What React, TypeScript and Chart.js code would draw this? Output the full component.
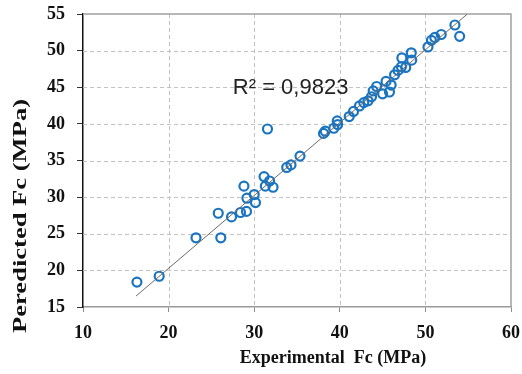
import React, { useEffect, useRef } from "react";
import { Chart, registerables } from "chart.js";

Chart.register(...registerables);

// Experimental vs predicted compressive strength (MPa)
const experimentalFc = [
  16.3, 18.9, 23.2, 26.1, 25.8, 27.35, 28.4, 29.1, 28.8, 29.15,
  30.15, 30.0, 31.15, 31.3, 32.2, 31.8, 31.55, 33.8, 34.3, 35.35,
  38.1, 38.3, 39.3, 39.7, 39.75, 41.1, 41.6, 42.3, 42.8, 43.3,
  43.7, 43.9, 44.3, 45.0, 45.8, 45.4, 46.0, 46.4, 46.8, 47.2,
  47.7, 47.25, 48.4, 48.35, 50.3, 50.7, 51.1, 51.85, 53.45, 54.0,
];
const predictedFc = [
  18.4, 19.2, 24.45, 24.45, 27.8, 27.3, 27.9, 28.05, 31.5, 29.85,
  29.25, 30.35, 32.8, 31.5, 31.35, 32.2, 39.3, 34.05, 34.4, 35.6,
  38.7, 39.0, 39.4, 40.4, 39.9, 41.0, 41.7, 42.45, 42.9, 43.15,
  43.7, 44.5, 45.1, 44.1, 44.35, 45.8, 45.3, 46.7, 47.3, 47.8,
  47.7, 49.0, 48.7, 49.7, 50.5, 51.4, 51.8, 52.2, 53.5, 51.95,
];
// Linear trendline end points
const trendX = [16.2, 54.9];
const trendY = [16.5, 55.0];

const xTicks = [10, 20, 30, 40, 50, 60];
const yTicks = [15, 20, 25, 30, 35, 40, 45, 50, 55];

const r2Label = "R² = 0,9823";
const xTitle = "Experimental  Fc (MPa)";
const yTitle = "Peredicted Fc (MPa)";

export default function App() {
  const ref = useRef<HTMLCanvasElement | null>(null);

  useEffect(() => {
    if (!ref.current) return;

    const decor = {
      id: "decor",
      beforeDatasetsDraw(chart: any) {
        const { ctx, chartArea, scales } = chart;
        ctx.save();
        ctx.strokeStyle = "#c2c2c2";
        ctx.lineWidth = 1;
        ctx.setLineDash([4, 3]);
        for (const v of xTicks.slice(1, -1)) {
          const px = Math.round(scales.x.getPixelForValue(v)) + 0.5;
          ctx.beginPath();
          ctx.moveTo(px, chartArea.top);
          ctx.lineTo(px, chartArea.bottom);
          ctx.stroke();
        }
        for (const v of yTicks.slice(1, -1)) {
          const py = Math.round(scales.y.getPixelForValue(v)) + 0.5;
          ctx.beginPath();
          ctx.moveTo(chartArea.left, py);
          ctx.lineTo(chartArea.right, py);
          ctx.stroke();
        }
        ctx.setLineDash([]);
        ctx.strokeStyle = "#a0a0a0";
        ctx.lineWidth = 1.5;
        ctx.beginPath();
        ctx.moveTo(chartArea.left, chartArea.top);
        ctx.lineTo(chartArea.right, chartArea.top);
        ctx.lineTo(chartArea.right, chartArea.bottom);
        ctx.stroke();
        ctx.restore();
      },
      afterDraw(chart: any) {
        const { ctx, scales } = chart;
        ctx.save();
        ctx.fillStyle = "#222";
        ctx.font = '22px "Liberation Sans"';
        ctx.textAlign = "left";
        ctx.textBaseline = "alphabetic";
        ctx.fillText(r2Label, scales.x.getPixelForValue(27.5), scales.y.getPixelForValue(44.05));

        ctx.fillStyle = "#111";
        ctx.font = 'bold 18px "Liberation Serif"';
        ctx.textAlign = "center";
        ctx.textBaseline = "middle";
        ctx.fillText(xTitle, 333, 358);

        ctx.translate(21, 216);
        ctx.rotate(-Math.PI / 2);
        ctx.font = 'bold 18px "Liberation Serif"';
        const w = ctx.measureText(yTitle).width;
        ctx.scale(234 / w, 1);
        ctx.fillText(yTitle, 0, 0);
        ctx.restore();
      },
    };

    const chart = new Chart(ref.current, {
      type: "scatter",
      data: {
        datasets: [
          {
            type: "line",
            data: trendX.map((x, i) => ({ x, y: trendY[i] })),
            borderColor: "#6b6b6b",
            borderWidth: 1,
            pointRadius: 0,
            fill: false,
          } as any,
          {
            data: experimentalFc.map((x, i) => ({ x, y: predictedFc[i] })),
            pointRadius: 4.5,
            pointBorderWidth: 2.2,
            borderColor: "#1a74c0",
            backgroundColor: "rgba(0,0,0,0)",
            pointStyle: "circle",
          },
        ],
      },
      options: {
        responsive: false,
        animation: false,
        layout: { padding: { top: 14, right: 11, left: 0, bottom: 0 } },
        plugins: { legend: { display: false }, tooltip: { enabled: false } },
        scales: {
          x: {
            type: "linear",
            min: 10,
            max: 60,
            afterBuildTicks: (s: any) => {
              s.ticks = xTicks.map((v) => ({ value: v }));
            },
            afterFit: (s: any) => {
              s.height = 67;
              s.paddingLeft = 0;
              s.paddingRight = 0;
            },
            ticks: {
              padding: 11,
              color: "#111",
              font: { family: '"Liberation Serif"', size: 18, weight: "bold" },
            },
            grid: {
              drawOnChartArea: false,
              color: "#8c8c8c",
              tickColor: "#8c8c8c",
              tickLength: 5,
              lineWidth: 1,
            },
            border: { display: true, color: "#9a9a9a", width: 1.5 },
          },
          y: {
            type: "linear",
            min: 15,
            max: 55,
            afterBuildTicks: (s: any) => {
              s.ticks = yTicks.map((v) => ({ value: v }));
            },
            afterFit: (s: any) => {
              s.width = 83;
              s.paddingTop = 0;
              s.paddingBottom = 0;
            },
            ticks: {
              padding: 12,
              color: "#111",
              font: { family: '"Liberation Serif"', size: 18, weight: "bold" },
            },
            grid: {
              drawOnChartArea: false,
              color: "#333",
              tickColor: "#333",
              tickLength: 6,
              lineWidth: 1,
            },
            border: { display: true, color: "#111", width: 1.5 },
          },
        },
      },
      plugins: [decor],
    });
    return () => chart.destroy();
  }, []);

  return (
    <div style={{ position: "absolute", left: 0, top: 0, width: 522, height: 374, background: "#fff" }}>
      <canvas ref={ref} width={522} height={374} />
    </div>
  );
}
